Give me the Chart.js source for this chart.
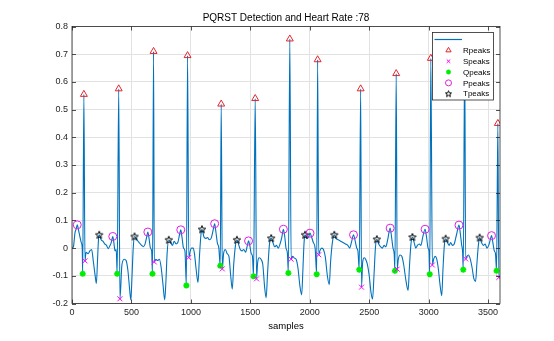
<!DOCTYPE html>
<html>
<head>
<meta charset="utf-8">
<script src="https://cdn.jsdelivr.net/npm/chart.js@4"></script>
<style>
  body { margin: 0; background: #fff; }
  #wrap { width: 554px; height: 341px; }
</style>
</head>
<body>
<div id="wrap"><canvas id="ecgChart" width="554" height="341"></canvas></div>
<script>
// PQRST detection plot

const chartTitle = "PQRST Detection and Heart Rate :78";
const xLabel = "samples";
const xTicks = [0, 500, 1000, 1500, 2000, 2500, 3000, 3500];
const yTicks = [-0.2, -0.1, 0, 0.1, 0.2, 0.3, 0.4, 0.5, 0.6, 0.7, 0.8];
const yTickLabels = ["-0.2", "-0.1", "0", "0.1", "0.2", "0.3", "0.4", "0.5", "0.6", "0.7", "0.8"];
const legendLabels = ["", "Rpeaks", "Speaks", "Qpeaks", "Ppeaks", "Tpeaks"];

// ecg trace
const ecgSamples = [0,12,25,36,44,55,67,78,86,90,100,109,118,135,150,165,180,195,205,215,224,229,245,260,275,290,305,318,330,343,352,362,372,380,393,403,420,440,455,470,485,495,505,515,526,545,565,585,600,615,628,638,648,660,670,677,686,692,705,720,735,750,765,780,790,800,814,830,845,860,875,890,905,915,925,938,950,962,972,982,995,1005,1020,1030,1045,1060,1072,1085,1093,1110,1125,1140,1155,1170,1185,1200,1210,1222,1235,1247,1255,1264,1275,1290,1305,1320,1335,1348,1360,1375,1387,1400,1415,1430,1445,1460,1475,1485,1495,1508,1518,1527,1541,1552,1562,1575,1590,1605,1620,1633,1645,1660,1675,1690,1705,1720,1735,1750,1765,1778,1790,1800,1812,1820,1832,1843,1855,1870,1885,1900,1918,1932,1942,1952,1960,1975,1990,2002,2015,2030,2045,2058,2066,2075,2085,2100,2115,2130,2148,2164,2175,2190,2206,2220,2240,2260,2280,2300,2320,2335,2350,2368,2380,2395,2405,2416,2428,2435,2445,2458,2470,2485,2500,2515,2528,2540,2552,2564,2580,2595,2610,2625,2640,2655,2676,2688,2700,2710,2716,2727,2735,2745,2760,2775,2790,2810,2827,2838,2850,2863,2878,2892,2905,2920,2935,2950,2970,2982,2995,3003,3009,3018,3031,3042,3055,3068,3080,3095,3110,3120,3132,3143,3158,3172,3185,3200,3215,3235,3255,3267,3278,3285,3291,3303,3311,3322,3335,3350,3365,3380,3395,3405,3418,3429,3445,3460,3475,3490,3505,3518,3529,3540,3552,3562,3571,3582,3590,3600];
const ecgValues = [0,0.005,0.055,0.07,0.084,0.065,0.04,0.02,0,-0.093,0.555,-0.046,-0.015,-0.02,-0.01,-0.005,-0.05,-0.1,-0.128,-0.04,0.04,0.048,0.03,0.025,0.015,0.01,-0.002,0.008,0.02,0.042,0.02,-0.01,-0.005,-0.093,0.575,-0.183,-0.06,-0.04,-0.045,-0.08,-0.15,-0.187,-0.1,0,0.042,0.03,0.02,0.01,0.005,0.015,0.04,0.058,0.035,0,-0.01,-0.093,0.71,-0.05,-0.04,-0.045,-0.04,-0.07,-0.13,-0.187,-0.12,-0.02,0.03,0.02,0.01,0.025,0.015,0.02,0.05,0.066,0.04,0,-0.01,-0.135,0.695,-0.034,-0.01,0,0,-0.02,-0.08,-0.124,-0.03,0.05,0.068,0.04,0.035,0.038,0.03,0.035,0.06,0.088,0.06,0.02,0,-0.064,0.52,-0.075,-0.02,-0.005,-0.02,-0.03,-0.1,-0.148,-0.06,0.01,0.03,0.015,-0.005,-0.01,-0.005,-0.015,0.01,0.026,0.01,-0.02,-0.03,-0.102,0.54,-0.111,-0.05,-0.035,-0.04,-0.06,-0.14,-0.18,-0.09,0.01,0.036,0.02,0.005,0.01,0,0.015,0.04,0.068,0.04,0,-0.02,-0.09,0.755,-0.04,-0.03,-0.036,-0.04,-0.07,-0.14,-0.169,-0.08,0.02,0.048,0.035,0.04,0.054,0.04,0.02,0,-0.094,0.68,-0.024,-0.01,0,-0.005,-0.03,-0.1,-0.132,-0.05,0.02,0.048,0.035,0.03,0.025,0.02,0.015,0.01,0,0.02,0.048,0.03,0,-0.01,-0.078,0.575,-0.141,-0.05,-0.035,-0.04,-0.06,-0.1,-0.16,-0.184,-0.1,0,0.032,0.015,0.005,0,0.01,0.005,0.03,0.072,0.04,0,-0.02,-0.082,0.63,-0.076,-0.04,-0.025,-0.03,-0.06,-0.12,-0.153,-0.07,0.01,0.04,0.02,0,0.01,0.015,0.01,0.04,0.068,0.04,0,-0.01,-0.094,0.685,-0.061,-0.04,-0.03,-0.04,-0.07,-0.13,-0.172,-0.08,0.01,0.034,0.02,0.01,0.02,0.01,0.015,0.05,0.083,0.05,0.01,-0.01,-0.078,0.7,-0.039,-0.03,-0.025,-0.04,-0.07,-0.11,-0.12,-0.06,0.01,0.038,0.02,0.01,0.015,0,0.01,0.03,0.045,0.02,-0.01,-0.02,-0.082,0.45,-0.106,-0.1];

// detected peaks
const rSamples = [100,393,686,972,1255,1541,1832,2066,2428,2727,3018,3303,3582];
const rValues = [0.555,0.575,0.71,0.695,0.52,0.54,0.755,0.68,0.575,0.63,0.685,0.7,0.45];
const sSamples = [109,403,692,982,1264,1552,1843,2075,2435,2735,3031,3311,3590];
const sValues = [-0.046,-0.183,-0.05,-0.034,-0.075,-0.111,-0.04,-0.024,-0.141,-0.076,-0.061,-0.039,-0.106];
const qSamples = [90,380,677,962,1247,1527,1820,2058,2416,2716,3009,3291,3571];
const qValues = [-0.093,-0.093,-0.093,-0.135,-0.064,-0.102,-0.09,-0.094,-0.078,-0.082,-0.094,-0.078,-0.082];
const pSamples = [44,343,638,915,1200,1485,1778,2002,2368,2676,2970,3255,3529];
const pValues = [0.084,0.042,0.058,0.066,0.088,0.026,0.068,0.054,0.048,0.072,0.068,0.083,0.045];
const tSamples = [229,526,814,1093,1387,1675,1960,2206,2564,2863,3143,3429];
const tValues = [0.048,0.042,0.03,0.068,0.03,0.036,0.048,0.048,0.032,0.04,0.034,0.038];

const axisColor = "#262626";
const fontFam = "'Liberation Sans', Arial, sans-serif";

function pairs(xs, ys) {
  return xs.map((x, i) => ({ x: x, y: ys[i] }));
}

// five point star like matlab 'p'
function makePentagram(outer, inner) {
  const size = Math.ceil(outer * 2 + 2);
  const c = document.createElement("canvas");
  c.width = size; c.height = size;
  const g = c.getContext("2d");
  g.beginPath();
  for (let i = 0; i < 10; i++) {
    const r = i % 2 === 0 ? outer : inner;
    const a = -Math.PI / 2 + i * Math.PI / 5;
    const px = size / 2 + r * Math.cos(a), py = size / 2 + 0.3 + r * Math.sin(a);
    if (i === 0) g.moveTo(px, py); else g.lineTo(px, py);
  }
  g.closePath();
  g.strokeStyle = "#000";
  g.lineWidth = 1;
  g.stroke();
  return c;
}
const pentagram = makePentagram(3.9, 1.7);
const smallPentagram = makePentagram(3.2, 1.4);

// smaller icons in the legend, like matlab draws them
const legendRadius = [0, 3, 2.5, 2.2, 3, 0];

const frame = {
  id: "frame",
  afterDatasetsDraw(chart) {
    const ctx = chart.ctx, a = chart.chartArea;
    const xs = chart.scales.x, ys = chart.scales.y;
    ctx.save();
    ctx.strokeStyle = axisColor;
    ctx.lineWidth = 0.8;
    ctx.strokeRect(a.left, a.top, a.right - a.left, a.bottom - a.top);
    ctx.beginPath();
    xTicks.forEach(v => {
      const px = Math.round(xs.getPixelForValue(v)) + 0.5;
      ctx.moveTo(px, a.bottom); ctx.lineTo(px, a.bottom - 4);
      ctx.moveTo(px, a.top); ctx.lineTo(px, a.top + 4);
    });
    yTicks.forEach(v => {
      const py = Math.round(ys.getPixelForValue(v)) + 0.5;
      ctx.moveTo(a.left, py); ctx.lineTo(a.left + 4, py);
      ctx.moveTo(a.right, py); ctx.lineTo(a.right - 4, py);
    });
    ctx.stroke();
    // title
    ctx.fillStyle = "#000";
    ctx.font = "10px " + fontFam;
    ctx.textAlign = "center";
    ctx.textBaseline = "middle";
    ctx.fillText(chartTitle, (a.left + a.right) / 2, 18);
    ctx.restore();
  },
  afterDraw(chart) {
    // legend box inside the axes, top right
    const ctx = chart.ctx, a = chart.chartArea;
    const bx = a.right - 67.5, by = a.top + 6, bw = 61, bh = 67.5;
    ctx.save();
    ctx.fillStyle = "#fff";
    ctx.fillRect(bx, by, bw, bh);
    ctx.strokeStyle = axisColor;
    ctx.lineWidth = 0.8;
    ctx.strokeRect(bx, by, bw, bh);
    ctx.font = "8px " + fontFam;
    ctx.textBaseline = "middle";
    ctx.textAlign = "left";
    chart.data.datasets.forEach((ds, i) => {
      const ry = by + 7 + i * 10.85;
      if (i === 0) {
        ctx.strokeStyle = ds.borderColor;
        ctx.lineWidth = 1.2;
        ctx.beginPath();
        ctx.moveTo(bx + 2, ry); ctx.lineTo(bx + 29.5, ry);
        ctx.stroke();
      } else {
        let style = ds.pointStyle;
        if (i === 3) style = "circle";
        if (i === 5) style = smallPentagram;
        ctx.strokeStyle = ds.borderColor;
        ctx.fillStyle = ds.backgroundColor;
        ctx.lineWidth = i === 3 ? 0.5 : ds.borderWidth;
        Chart.helpers.drawPoint(ctx, {
          pointStyle: style, radius: legendRadius[i],
          rotation: 0, borderWidth: ctx.lineWidth
        }, bx + 16, ry);
      }
      ctx.fillStyle = "#000";
      ctx.fillText(legendLabels[i], bx + 30.5, ry + 0.5);
    });
    ctx.restore();
  }
};

new Chart(document.getElementById("ecgChart"), {
  type: "scatter",
  data: {
    datasets: [
      {
        type: "line",
        label: legendLabels[0],
        data: pairs(ecgSamples, ecgValues),
        borderColor: "#0072BD",
        backgroundColor: "#0072BD",
        borderWidth: 1.1,
        pointRadius: 0,
        cubicInterpolationMode: "monotone",
        fill: false,
        order: 10
      },
      {
        label: legendLabels[1],
        data: pairs(rSamples, rValues),
        pointStyle: "triangle",
        pointRadius: 4,
        borderColor: "#e3262f",
        backgroundColor: "rgba(0,0,0,0)",
        borderWidth: 1,
        order: 1
      },
      {
        label: legendLabels[2],
        data: pairs(sSamples, sValues),
        pointStyle: "crossRot",
        pointRadius: 3.5,
        borderColor: "#ff00ff",
        backgroundColor: "#ff00ff",
        borderWidth: 1,
        order: 1
      },
      {
        label: legendLabels[3],
        data: pairs(qSamples, qValues),
        pointStyle: "star",
        pointRadius: 3,
        borderColor: "#00ee00",
        backgroundColor: "#00ee00",
        borderWidth: 1.8,
        order: 1
      },
      {
        label: legendLabels[4],
        data: pairs(pSamples, pValues),
        pointStyle: "circle",
        pointRadius: 4,
        borderColor: "#e020e0",
        backgroundColor: "rgba(0,0,0,0)",
        borderWidth: 1,
        order: 1
      },
      {
        label: legendLabels[5],
        data: pairs(tSamples, tValues),
        pointStyle: pentagram,
        pointRadius: 4,
        borderColor: "#000",
        backgroundColor: "rgba(0,0,0,0)",
        borderWidth: 1,
        order: 1
      }
    ]
  },
  options: {
    responsive: false,
    animation: false,
    devicePixelRatio: 1,
    layout: { padding: { left: 0, top: 26.5, right: 54, bottom: 0 } },
    plugins: {
      legend: { display: false },
      title: { display: false },
      tooltip: { enabled: false }
    },
    scales: {
      x: {
        type: "linear",
        min: 0,
        max: 3600,
        afterFit: (s) => { s.height = 37.5; },
        afterBuildTicks: (s) => { s.ticks = xTicks.map(v => ({ value: v })); },
        grid: { color: "#e2e2e2", lineWidth: 1, drawTicks: false },
        border: { display: false },
        ticks: {
          color: axisColor,
          font: { family: fontFam, size: 9 },
          padding: 4,
          maxRotation: 0,
          callback: (v) => String(v)
        },
        title: {
          display: true,
          text: xLabel,
          color: "#000",
          font: { family: fontFam, size: 9.5 },
          padding: { top: 2, bottom: 8.5 }
        }
      },
      y: {
        type: "linear",
        min: -0.2,
        max: 0.8,
        afterFit: (s) => { s.width = 72; },
        afterBuildTicks: (s) => { s.ticks = yTicks.map(v => ({ value: v })); },
        grid: { color: "#e2e2e2", lineWidth: 1, drawTicks: false },
        border: { display: false },
        ticks: {
          color: axisColor,
          font: { family: fontFam, size: 9 },
          padding: 4,
          callback: (v, i) => yTickLabels[i]
        }
      }
    }
  },
  plugins: [frame]
});
</script>
</body>
</html>
